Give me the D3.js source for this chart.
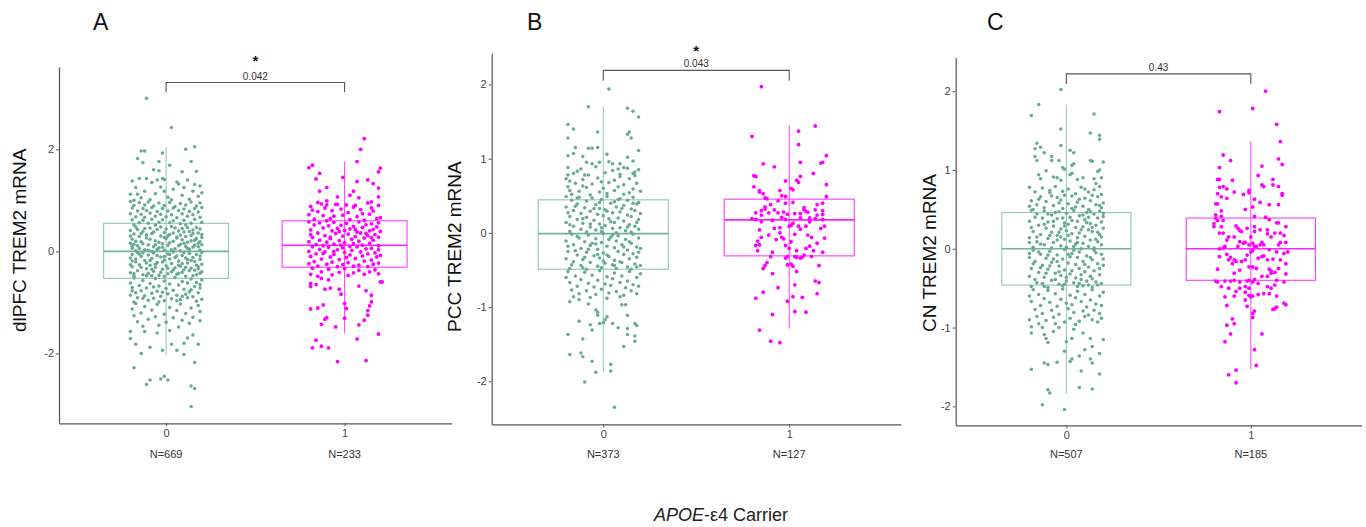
<!DOCTYPE html>
<meta charset="utf-8">
<script src="https://d3js.org/d3.v7.min.js"></script>
<style>
  body { margin: 0; background: #fff; }
  text { font-family: "Liberation Sans", Arial, sans-serif; }
</style>
<div id="chart"></div>
<script>
// ---------- data ----------
var categories = ["0", "1"];
var panelLetters = ["A", "B", "C"];
var yTitles = ["dlPFC TREM2 mRNA", "PCC TREM2 mRNA", "CN TREM2 mRNA"];
var yDomains = [[-3.37, 3.62], [-2.58, 2.42], [-2.24, 2.43]];
var yTicks = [[-2, 0, 2], [-2, -1, 0, 1, 2], [-2, -1, 0, 1, 2]];
var nLabels = [["N=669", "N=233"], ["N=373", "N=127"], ["N=507", "N=185"]];
var pValues = ["0.042", "0.043", "0.43"];
var stars = ["*", "*", ""];
// bracket: [bar value, tip value]
var brackets = [[3.31, 3.12], [2.19, 2.05], [2.22, 2.09]];

// box stats per group: [lower whisker, q1, median, q3, upper whisker]
var boxA = [[-2.03, -0.53, 0.00, 0.55, 2.05], [-1.61, -0.31, 0.12, 0.60, 1.76]];
var boxB = [[-1.88, -0.49, -0.01, 0.445, 1.70], [-1.29, -0.31, 0.175, 0.454, 1.45]];
var boxC = [[-1.84, -0.46, 0.00, 0.46, 1.83], [-1.53, -0.40, 0.00, 0.39, 1.36]];

// jittered points, flat pairs: [jitter*100, value*100, ...]
var ptsA0 = [-11,300, 3,243, -14,197, -12,197, -16,182, -13,174, -2,193, 11,200, 16,205, 14,176, 2,169, -4,176, -7,160, -4,158, 17,157, 9,156, -15,143, -11,143, -2,143, -1,141,
  -19,138, -8,135, 7,132, 12,140, 19,128, -17,125, -3,126, 4,122, 15,118, -12,118, -20,112, -6,113, 9,110, 18,108, -14,105, 1,106, 13,102, -9,101, -18,100, 6,136, -1,118, 20,115, -5,140, 10,125, -16,112, 3,101, 16,131,
  -20,98, -15,96, -10,97, -4,95, 2,96, 8,94, 14,97, 19,95, -18,90, -12,91, -7,89, -1,90, 5,88, 11,91, 17,89, -19,85, -13,84, -8,86, -2,84, 4,85, 10,83, 16,84, 20,86, -16,79, -11,80, -5,78, 1,79, 7,80, 13,78, 18,77, -20,74, -14,73, -9,75, -3,73, 3,72, 9,74, 15,72, -17,68, -12,67, -6,69, 0,68, 6,66, 12,69, 19,67, -19,62, -13,61, -8,63, -2,62, 4,60, 10,61, 16,63, -15,56, -10,55, -4,57, 2,56, 8,54, 14,55, 20,57, -18,52, -6,51, 11,52,
  -17,48, -9,46, 3,49, 12,47, 19,44, -20,41, -5,43, 7,40, 15,42, -13,39, -1,37, 10,38, 18,36, -18,34, -8,35, 2,33, 14,31, -15,29, -3,30, 6,28, 20,27, -11,26, -19,24, 0,25, 9,23, 16,22, -6,21, -14,19, 4,20, 12,18, -20,16, -2,15, 8,14, 18,16, -10,13, -16,11, 1,12, 11,10, -7,9, 15,8, -19,6, -4,7, 5,5, 13,4, -12,3, 19,2, -1,2, 8,1, -17,1, -8,0, 17,47, -12,45, 0,44, 9,45, -3,48, 5,46, -16,43, 13,39, -7,38, 20,33, -11,32, 4,36, -1,27, 11,29, -20,30, 17,25, -9,24, 6,26, 14,21, -17,20, -4,18, 2,17, 19,19, -13,15, 10,16, -6,13, 16,12, -19,10, 7,11, -2,8, -15,6, 12,6, 3,3, -10,2, 18,9, -5,4, 20,13, -18,14, 1,30, -14,35, 8,32, 15,35,
  -16,-2, -7,-3, 4,-1, 13,-4, 20,-2, -19,-6, -10,-7, 1,-5, 9,-8, 17,-6, -14,-10, -3,-11, 6,-9, 15,-12, -20,-13, -8,-14, 2,-15, 11,-13, 19,-16, -12,-18, -1,-17, 7,-19, 16,-20, -17,-21, -5,-22, 3,-24, 12,-23, 20,-25, -15,-26, -9,-27, 0,-28, 8,-29, 17,-27, -19,-30, -6,-31, 5,-32, 14,-33, -11,-34, -2,-35, 10,-36, 18,-34, -16,-38, -7,-39, 3,-40, 13,-38, -20,-42, -10,-43, 1,-44, 9,-41, 19,-43, -13,-46, -4,-47, 6,-45, 15,-48, -18,-49, -8,-48, 11,-49, -1,-49, -13,-3, 10,-2, -5,-8, 19,-9, -17,-15, 5,-12, 14,-18, -2,-21, -11,-23, 9,-24, -20,-26, 18,-30, -14,-31, 1,-33, 11,-31, -8,-35, 16,-37, -3,-41, -18,-44, 7,-43, -11,-48, 17,-46, 4,-36, -6,-25, 12,-16, -19,-19, 2,-6, -9,-18, 20,-40, -15,-5, 7,-27, -1,-10,
  -18,-52, -6,-53, 5,-51, 14,-54, 20,-56, -13,-57, -1,-58, 9,-59, 17,-61, -20,-62, -9,-63, 2,-64, 12,-62, -15,-67, -4,-68, 7,-66, 16,-69, -19,-71, -11,-72, 0,-73, 10,-74, 19,-72, -14,-77, -5,-78, 4,-76, 13,-79, -17,-81, -8,-82, 1,-83, 11,-84, 18,-81, -20,-86, -12,-87, -3,-88, 6,-86, 15,-89, -16,-91, -7,-92, 3,-93, 12,-91, 20,-94, -10,-96, -1,-97, 8,-95, 17,-98, -18,-99, -4,-99, 14,-75, -13,-92, 9,-88, -7,-70, 19,-65, -2,-80, 6,-97, -19,-77,
  -17,-102, -5,-104, 8,-103, 18,-106, -12,-108, 2,-110, 14,-111, -19,-113, -8,-115, 6,-116, 19,-118, -14,-121, -1,-123, 11,-122, -18,-126, -6,-128, 4,-130, 15,-129, -10,-133, 9,-135, -16,-138, 0,-139, 13,-141, 19,-136, -4,-145, -13,-147, 7,-148,
  -20,-171, -17,-182, -14,-200, 16,-218, 18,-182, -2,-194, 6,-194, 10,-202, 3,-182, 10,-180, 15,-164, -5,-160, 2,-155, -12,-157, 12,-170, -9,-188, -20,-157, -18,-228, -11,-261, -9,-252, -3,-250, -1,-245, 1,-252, 14,-264, 16,-269, 14,-304];

var ptsA1 = [11,221, 9,200, 7,176, -20,164, -18,169, -16,142, -14,153, -1,145, 7,137, 13,140, 20,163, 19,156, 16,133, 19,124, -14,118, -10,125, -4,107, 3,110, 5,118, 8,105, 19,107, 15,97, -15,96, -10,99, -10,91, -5,92, 1,91,
  -19,88, -11,85, -4,92, 5,87, 13,95, 19,90, -15,78, -7,80, 2,76, 9,82, 16,79, -20,72, -12,70, -1,71, 7,68, 14,73, 20,66, -17,63, -8,64, 3,62, 11,61, 18,64, -13,93, -2,83, 10,74, -6,69, 15,85, -18,81, 6,90, -10,60,
  -20,58, -14,56, -6,57, 1,55, 8,58, 15,54, 19,56, -17,52, -9,50, -2,51, 5,49, 12,52, 18,48, -12,46, -4,45, 3,44, 10,47, 16,43, -19,42, -7,40, 0,41, 7,38, 14,40, 20,39, -15,36, -5,35, 2,34, 9,36, 17,33, -11,31, -1,30, 6,29, 13,31, 19,28, -18,27, -8,25, 4,24, 11,26, -14,22, -3,21, 8,20, 16,22, -20,19, -10,18, 0,17, 5,15, 14,16, -6,14, -16,13, 10,12, 19,11, -2,12, -12,11, 3,10, -8,28, 15,27, -19,33, 6,43, -3,39, 12,35,
  -18,9, -9,8, -1,7, 7,9, 15,6, -14,4, -4,3, 4,2, 12,5, 19,3, -20,0, -11,-1, 0,-2, 9,-1, 17,-3, -16,-5, -6,-6, 3,-7, 13,-5, -19,-10, -8,-11, 1,-12, 10,-9, 18,-11, -13,-15, -3,-16, 6,-14, 15,-17, -17,-20, -7,-21, 2,-22, 11,-19, 19,-23, -10,-25, -1,-26, 8,-27, 16,-25, -15,-29, -4,-30, 5,-29, 13,-30, -20,-24, -6,0, 20,-8, -12,-4,
  -18,-33, -9,-35, 0,-34, 8,-37, 17,-36, -13,-40, -3,-41, 5,-42, 14,-40, -19,-45, -7,-46, 2,-47, 11,-45, 19,-44, -15,-49,
  21,-60, -19,-63, -19,-69, -16,-65, -13,-53, -9,-56, -11,-74, -8,-72, -3,-74, -2,-84, 8,-68, 12,-77, 15,-86, 15,-99, 14,-107, 13,-116, 0,-102, 1,-112, 0,-131, -19,-113, -15,-111, -12,-105, -10,-130, -11,-133, -13,-143, -5,-148, 8,-144, 11,-135, 13,-125, 19,-162, -16,-174, -18,-189, -13,-186, -9,-189, 7,-172, -4,-216, 12,-214, 20,-60];

var ptsB0 = [3,194, -8,170, 13,168, 16,164, 19,156, -19,146, -16,140, -19,128, -3,136, 13,133, 14,136, 15,128, -15,115, -19,104, -16,107, -8,114, -6,114, -3,115, 2,106, 19,111, 13,102, 16,97, -11,103, -9,95, -6,93, -2,95, 3,96, 5,93, 9,93, 11,88, 8,86, 16,80, -19,78, -18,70, -14,83, -10,78,
  -19,88, -12,86, -4,89, 5,84, 13,87, 19,85, -16,80, -8,78, 1,81, 9,79, 17,77, -20,73, -11,72, -3,74, 6,71, 14,73, -15,67, -6,66, 3,68, 11,65, 18,67, -19,62, -9,61, 0,60, 8,62, 16,59, -13,56, -2,55, 6,57, 14,54, 20,56, -17,52, -7,51, 2,53, 11,52, -11,63, 17,82, -1,69, -18,57, 9,76,
  -20,49, -13,48, -6,47, 2,49, 9,46, 16,48, -17,44, -9,43, -1,45, 6,42, 13,44, 19,41, -14,39, -4,38, 4,40, 11,37, 18,39, -20,35, -10,34, -2,33, 7,35, 15,32, -16,30, -7,29, 1,31, 9,28, 17,30, -12,26, -3,25, 5,27, 13,24, 20,26, -18,22, -9,21, 0,23, 8,20, 15,22, -14,18, -5,17, 3,19, 11,16, 19,18, -20,14, -11,13, -2,12, 6,14, 14,11, -16,9, -7,8, 1,10, 9,7, 17,9, -12,5, -4,4, 5,6, 12,3, 19,5, -18,2, -9,1, -1,2, 7,0, 15,1, -14,47, -2,41, 10,33, -19,27, 4,15, -7,12, 13,8, -15,36, 2,29, 18,14, -11,19, -5,33, 8,45, -18,11, 16,40, -1,7,
  -17,-2, -8,-3, 0,-1, 8,-4, 16,-2, -13,-7, -4,-8, 4,-6, 12,-9, 19,-7, -20,-11, -10,-12, -1,-13, 7,-11, 15,-14, -16,-16, -7,-17, 2,-18, 10,-16, 18,-19, -12,-21, -3,-22, 6,-20, 13,-23, 20,-21, -19,-25, -9,-26, 0,-27, 8,-25, 16,-28, -14,-30, -5,-31, 3,-32, 11,-29, 18,-33, -20,-35, -11,-36, -2,-34, 6,-37, 14,-35, -16,-39, -7,-40, 1,-41, 9,-39, 17,-42, -12,-44, -3,-45, 5,-43, 13,-46, 20,-44, -18,-48, -9,-49, -1,-47, 7,-48, 15,-49, -14,-5, 3,-9, -6,-14, 11,-19, -19,-18, 19,-26, -3,-29, -10,-33, 6,-44, -17,-43, 14,-12, 0,-38, -8,-22, 10,-40, -15,-24, 5,-3, 18,-46, -11,-47, 2,-30, -4,-15,
  -19,-52, -10,-53, -2,-51, 6,-54, 14,-52, 20,-55, -15,-58, -6,-57, 2,-59, 10,-58, 18,-60, -12,-63, -3,-64, 5,-62, 13,-65, -18,-67, -8,-68, 1,-69, 9,-67, 16,-70, -14,-72, -5,-73, 4,-71, 12,-74, 19,-72, -17,-77, -9,-78, -1,-76, 7,-79, 15,-78, -13,-82, -4,-83, 3,-81, 11,-84, 18,-82, -16,-86, -7,-87, 2,-88, 9,-86, -20,-60,
  -18,-93, -13,-90, -8,-96, -19,-137, -13,-119, -11,-143, -7,-124, -6,-131, -2,-122, 0,-121, 2,-113, 5,-122, 8,-128, 13,-129, 13,-137, 17,-139, 17,-146, 17,-122, 18,-125, 11,-153, -18,-164, -12,-162, -11,-167, -6,-173, 4,-177, 4,-186, -4,-188, -10,-201, 6,-235, -3,-111, -4,-104, -3,-107, 1,-117, 13,-111, 12,-97, 10,-97];

var ptsB1 = [-15,197, -20,130, 5,137, 14,144, 5,119, 20,104, 17,94, 18,95, 6,95, -14,93, -8,89, 13,80, -19,77, -18,76, -2,70, 4,71, 5,68, 6,76, 20,65, -19,62, -16,57, -16,55, -14,53, -5,57, 1,60, 2,58, -4,50, -2,49, 20,49, -13,47, -12,46, -10,38, -13,35, -13,32, -15,30, -6,43, -2,40, 2,41, 8,34, 8,31, 10,28, 15,38, 18,40, 14,31, 18,30, 18,25, 15,24, -18,27, -15,24, -3,28, -1,25, 3,26, 6,26, 9,29, -20,19, -18,18, -15,15, -9,17, -4,21, 0,9, 1,10, 2,13, 6,5, 11,20, 14,19, 18,18, -16,4, -11,-3, -15,-6, -17,-11, -18,-17, -17,-24, -5,7, -5,0, -4,-6, -3,-8, -2,-17, 0,-21, 4,-24, 7,-33, 6,-34, 4,-33, 3,-32, -1,-32, -2,-34, 11,-18, 13,-24, 18,-26, 19,-7, 12,-32, -9,-26, -10,-32, -12,-40, -13,-44, -14,-48, -1,-43, 1,-42, 2,-45, 4,-52, 16,-44, -9,-55, 3,-70, 14,-65, 16,-67, -6,-74, -14,-80, -18,-88, 2,-86, 7,-87, 15,-82, -1,-92, -9,-110, 3,-106, 9,-107, -16,-131, -10,-146, -5,-148,
  11,15, 9,9, 5,9, -8,31, -6,27, 10,-3, 12,-6, 17,6, -2,18, 3,-2, -7,-9, 15,-14, 9,-21, 1,-12, -11,27, 6,20, 19,9, -8,6, 8,-30, -16,-16];

var ptsC0 = [-3,202, -15,183, -19,169, 15,171, -3,152, 13,147, 18,144, 18,139, -16,134, -17,127, -14,129, -12,122, -17,117, -16,112, -3,131, 2,125, 4,122, -8,117, -8,112, -4,112, -2,103, -1,101, 3,106, 4,108, 13,112, 14,111, 20,110, 17,98, 18,100, -11,99, -15,94, -14,89, -7,91, -5,90, -3,87, 2,94, 3,96, 6,88, 9,90, 15,89, 19,90, 16,83, 18,79,
  -20,78, -13,77, -6,79, 1,76, 8,78, 15,75, -17,72, -9,71, -2,73, 5,70, 12,72, 19,69, -14,66, -5,65, 3,67, 10,64, 17,66, -19,61, -11,60, -3,62, 6,59, 13,61, 20,58, -16,56, -7,55, 1,57, 9,54, 16,56, -12,52, -2,51, 5,53, 12,50, 19,52, -18,50, -9,74, 14,68, -4,58, 7,63, -15,63, 18,55, -1,68, 10,76, -20,54, 3,51, -8,67,
  -19,49, -12,48, -4,47, 4,49, 11,46, 18,48, -16,44, -8,43, 0,45, 7,42, 15,44, 20,41, -13,39, -5,38, 2,40, 10,37, 17,39, -20,35, -10,34, -1,33, 6,35, 13,32, 19,34, -15,30, -7,29, 1,31, 9,28, 16,30, -11,26, -3,25, 5,27, 12,24, 20,26, -18,22, -8,21, 0,23, 7,20, 14,22, -14,18, -5,17, 3,19, 10,16, 18,18, -20,14, -10,13, -1,12, 6,14, 13,11, -16,9, -7,8, 2,10, 9,7, 17,9, -12,5, -3,4, 5,6, 12,3, 19,5, -18,2, -8,1, 0,2, 8,0, 15,1, -6,46, 9,43, -17,40, 3,36, -12,31, 14,27, -4,21, 19,15, -9,17, 6,8, -19,27, 11,33, -2,39, 16,12, -14,6, 1,17, -7,35, 20,45, -16,15, 8,24, -1,29, 12,40, -10,44, 4,3, -5,11, 17,21, -20,8, 13,47, -3,15,
  -18,-2, -9,-3, -1,-1, 7,-4, 15,-2, -14,-7, -5,-8, 3,-6, 11,-9, 19,-7, -20,-11, -11,-12, -2,-13, 6,-11, 14,-14, -17,-16, -8,-17, 1,-18, 9,-16, 17,-19, -13,-21, -4,-22, 5,-20, 12,-23, 20,-21, -19,-25, -10,-26, -1,-27, 7,-25, 15,-28, -15,-30, -6,-31, 2,-32, 10,-29, 18,-33, -20,-35, -12,-36, -3,-34, 5,-37, 13,-35, -17,-39, -8,-40, 0,-41, 8,-39, 16,-42, -13,-44, -4,-45, 4,-43, 12,-46, 19,-44, -19,-48, -10,-49, -2,-47, 6,-48, 14,-49, -15,-4, 2,-10, -7,-13, 10,-20, -18,-19, 18,-25, -4,-29, -11,-31, 7,-44, -16,-43, 13,-11, 0,-36, -9,-22, 11,-41, -14,-24, 4,-2, 17,-46, -12,-48, 3,-28, -5,-16, 20,-13, -1,-45, 8,-33, -20,-6, 14,-38, -6,-39, 1,-7, 16,-5, -10,-8, 9,-47,
  -18,-52, -10,-53, -2,-51, 6,-54, 14,-52, 20,-55, -15,-58, -6,-57, 2,-59, 10,-58, 18,-60, -12,-63, -3,-64, 5,-62, 13,-65, -19,-67, -9,-68, 0,-69, 8,-67, 16,-70, -14,-72, -5,-73, 3,-71, 11,-74, 19,-72, -17,-77, -8,-78, 1,-76, 9,-79, 15,-78, -13,-82, -4,-83, 4,-81, 12,-84, 18,-82, -16,-86, -7,-87, 2,-88, 10,-86, -20,-90, -11,-91, -1,-93, 7,-92, 14,-90, -20,-60, 17,-93, -6,-95, -15,-95, 5,-96, 19,-88,
  -19,-153, -12,-145, -10,-147, -5,-144, 2,-143, 3,-140, 7,-136, 13,-140, 14,-145, 18,-159, 8,-155, -10,-179, -9,-183, 7,-176, 14,-178, -13,-198, -1,-204, -19,-99, -19,-107, -13,-100, -12,-109, -11,-114, -10,-119, -7,-105, -4,-100, 0,-118, 3,-114, 4,-102, 9,-107, 13,-114, 14,-124, 20,-115, 18,-133, 10,-128, -1,-130];

var ptsC1 = [8,200, -17,174, 1,178, 14,158, 16,136, -15,119, -11,112, 15,114, 17,107, -17,103, 6,105, 4,93, -18,88, -17,88, -10,87, 12,88, -17,78, -15,79, -13,76, 6,81, 7,79, 12,81, 15,79, -1,74, -1,71, -9,72, -4,69, 17,70, 17,68, -18,70, -16,66, 2,63, 5,59, -13,64, -19,57, -18,57, -3,50, 1,53, 10,56, 15,56, -16,48, -19,43, -19,39, -20,32, -20,28, -16,41, -18,36, 2,41, 8,40, 10,37, 14,33, 15,33, 19,28, -16,28, -8,29, -6,23, -5,22, -2,26, 2,28, 2,22, 11,15, 16,20, -17,20, -15,20, -9,15, -6,9, -4,7, -3,8, -1,5, 1,7, 2,3, 6,8, 7,5, 15,5, 16,8, 19,8, -14,3, -15,1, -17,0, -13,-7, -11,-11, -12,-14, -9,-14, -10,-19, -8,-16, -5,-16, -3,-14, 0,-4, 1,-2, 3,3, 5,5, 6,-10, 7,-9, 10,-1, 12,-13, 14,-4, 18,-6, 20,-4, 19,-19, 1,-23, 3,-25, 10,-26, 11,-28, 13,-30, 15,-25, 19,-32, -18,-26, -9,-31, -19,-41, -18,-42, -14,-41, -11,-41, -6,-42, -2,-41, -1,-40, 1,-42, 2,-39, 6,-35, 9,-35, 11,-31, 13,-46, -12,-50, -8,-54, -3,-48, -3,-55, -1,-50, -1,-59, 0,-61, 1,-60, 4,-58, 7,-57, 10,-57, 11,-50, 14,-60, -14,-61, -9,-60, -13,-72, -3,-65, -2,-73, 2,-79, 1,-82, 1,-87, 12,-77, 13,-76, 14,-74, 18,-69, 19,-71, -10,-89, -9,-95, -13,-97, -11,-108, -14,-118, 6,-108, 2,-128, 3,-148, -8,-154, -12,-160, -8,-170,
  -15,36, -7,26, 5,24, 9,19, -12,15, -7,3, 9,-14, 16,-14, -1,-23, -6,-27, -17,-10, 14,-40, 4,-44, 9,-48, -16,-48, -6,-50, 18,-42, -9,-40, 4,-12, -2,-8, 9,24, -13,11, 0,15, 13,20, 18,17];

var boxes = [boxA, boxB, boxC];
var points = [[ptsA0, ptsA1], [ptsB0, ptsB1], [ptsC0, ptsC1]];

// ---------- layout ----------
var W = 1366, H = 527;
var layout = [
  {left: 59,    right: 451.7,  top: 66.7, bottom: 423.3, titleX: 26,    letterX: 93,  starGap: 17},
  {left: 491.7, right: 900.8,  top: 53.3, bottom: 424.3, titleX: 460.7, letterX: 527, starGap: 14.5},
  {left: 955.7, right: 1361.5, top: 57.3, bottom: 425.3, titleX: 936,   letterX: 987, starGap: 14}
];
var pointColor = ["#66a995", "#ff00ff"];
var boxColor = ["#8fc7b8", "#ff3cff"];
var medColor = ["#70b19f", "#ff1fff"];
var axisColor = "#555";

var svg = d3.select("#chart")
  .append("svg")
    .attr("width", W)
    .attr("height", H);

function toPairs(arr) {
  var out = [];
  for (var k = 0; k < arr.length; k += 2) out.push({j: arr[k] / 100, v: arr[k + 1] / 100});
  return out;
}

layout.forEach(function(L, i) {
  var g = svg.append("g");

  var x = d3.scalePoint()
    .domain(categories)
    .range([L.left, L.right])
    .padding(0.6);
  var step = x.step();

  var y = d3.scaleLinear()
    .domain(yDomains[i])
    .range([L.bottom, L.top]);

  // boxes
  categories.forEach(function(c, k) {
    var b = boxes[i][k];
    var cx = x(c), hw = 0.35 * step;
    var bg = g.append("g");
    bg.append("line")
      .attr("x1", cx).attr("x2", cx)
      .attr("y1", y(b[0])).attr("y2", y(b[4]))
      .attr("stroke", boxColor[k]).attr("stroke-width", 1);
    bg.append("rect")
      .attr("x", cx - hw).attr("width", 2 * hw)
      .attr("y", y(b[3])).attr("height", y(b[1]) - y(b[3]))
      .attr("fill", "none")
      .attr("stroke", boxColor[k]).attr("stroke-width", 1.1);
    bg.append("line")
      .attr("x1", cx - hw).attr("x2", cx + hw)
      .attr("y1", y(b[2])).attr("y2", y(b[2]))
      .attr("stroke", medColor[k]).attr("stroke-width", 1.6);
  });

  // jittered points
  categories.forEach(function(c, k) {
    g.append("g")
      .selectAll("circle")
      .data(toPairs(points[i][k]))
      .enter()
      .append("circle")
        .attr("cx", function(d) { return x(c) + d.j * step; })
        .attr("cy", function(d) { return y(d.v); })
        .attr("r", k === 0 ? 1.75 : 1.9)
        .attr("fill", pointColor[k]);
  });

  // axes
  var yAxis = g.append("g")
    .attr("transform", "translate(" + L.left + ",0)")
    .call(d3.axisLeft(y).tickValues(yTicks[i]).tickSize(3).tickSizeOuter(0).tickPadding(2)
      .tickFormat(function(d) { return String(d); }));
  var xAxis = g.append("g")
    .attr("transform", "translate(0," + L.bottom + ")")
    .call(d3.axisBottom(x).tickSize(3).tickSizeOuter(0).tickPadding(3));
  [yAxis, xAxis].forEach(function(a) {
    a.select(".domain").attr("stroke", axisColor).attr("stroke-width", 1.2);
    a.selectAll(".tick line").attr("stroke", axisColor);
    a.selectAll("text").attr("fill", "#444").style("font-size", "11px")
      .style("font-family", "'Liberation Sans', Arial, sans-serif");
  });

  // N labels
  g.append("g")
    .selectAll("text")
    .data(nLabels[i])
    .enter()
    .append("text")
      .attr("x", function(d, k) { return x(categories[k]); })
      .attr("y", 458)
      .attr("text-anchor", "middle")
      .attr("fill", "#333")
      .style("font-size", "11px")
      .text(function(d) { return d; });

  // y title
  g.append("text")
    .attr("transform", "translate(" + L.titleX + ",332) rotate(-90)")
    .attr("text-anchor", "start")
    .attr("fill", "#111")
    .style("font-size", "19px")
    .text(yTitles[i]);

  // panel letter
  g.append("text")
    .attr("x", L.letterX)
    .attr("y", 30)
    .attr("fill", "#111")
    .style("font-size", "23px")
    .text(panelLetters[i]);

  // significance bracket
  var x0 = x(categories[0]), x1 = x(categories[1]);
  var by = y(brackets[i][0]), ty = y(brackets[i][1]);
  g.append("path")
    .attr("d", "M" + x0 + "," + ty + "V" + by + "H" + x1 + "V" + ty)
    .attr("fill", "none")
    .attr("stroke", axisColor)
    .attr("stroke-width", 1.1);
  g.append("text")
    .attr("x", (x0 + x1) / 2)
    .attr("y", by - 3)
    .attr("text-anchor", "middle")
    .attr("fill", "#333")
    .style("font-size", "10px")
    .text(pValues[i]);
  if (stars[i]) {
    g.append("text")
      .attr("x", (x0 + x1) / 2)
      .attr("y", by - L.starGap)
      .attr("text-anchor", "middle")
      .attr("fill", "#111")
      .style("font-size", "15px")
      .style("font-weight", "bold")
      .text(stars[i]);
  }
});

// shared x title
var xt = svg.append("text")
  .attr("x", 721)
  .attr("y", 521)
  .attr("text-anchor", "middle")
  .attr("fill", "#222")
  .style("font-size", "18px");
xt.append("tspan").style("font-style", "italic").text("APOE");
xt.append("tspan").text("-\u03b54 Carrier");
</script>
